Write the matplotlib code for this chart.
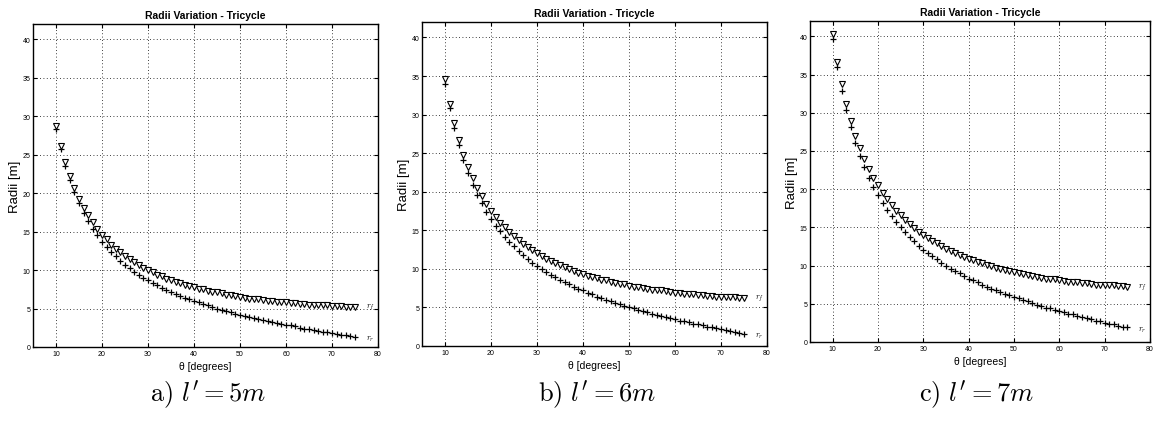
import matplotlib
matplotlib.use("Agg")
import matplotlib.pyplot as plt

plt.rcParams['font.family'] = ['Liberation Sans', 'DejaVu Sans']
plt.rcParams['mathtext.fontset'] = 'cm'

theta = list(range(10, 76))

rf_5 = [28.8, 26.2, 24.0, 22.2, 20.7, 19.3, 18.1, 17.1, 16.2, 15.4, 14.6, 14.0, 13.3, 12.8, 12.3, 11.8,
        11.4, 11.0, 10.7, 10.3, 10.0, 9.7, 9.4, 9.2, 8.9, 8.7, 8.5, 8.3, 8.1, 7.9, 7.8, 7.6, 7.5, 7.3,
        7.2, 7.1, 7.0, 6.8, 6.7, 6.6, 6.5, 6.4, 6.3, 6.3, 6.2, 6.1, 6.0, 6.0, 5.9, 5.8, 5.8, 5.7, 5.7,
        5.6, 5.6, 5.5, 5.5, 5.4, 5.4, 5.4, 5.3, 5.3, 5.3, 5.2, 5.2, 5.2]
rr_5 = [28.4, 25.7, 23.5, 21.7, 20.1, 18.7, 17.4, 16.4, 15.4, 14.5, 13.7, 13.0, 12.4, 11.8, 11.2, 10.7,
        10.3, 9.8, 9.4, 9.0, 8.7, 8.3, 8.0, 7.7, 7.4, 7.1, 6.9, 6.6, 6.4, 6.2, 6.0, 5.8, 5.6, 5.4, 5.2,
        5.0, 4.8, 4.7, 4.5, 4.3, 4.2, 4.0, 3.9, 3.8, 3.6, 3.5, 3.4, 3.2, 3.1, 3.0, 2.9, 2.8, 2.7, 2.5,
        2.4, 2.3, 2.2, 2.1, 2.0, 1.9, 1.8, 1.7, 1.6, 1.5, 1.4, 1.3]
rf_6 = [34.6, 31.4, 28.9, 26.7, 24.8, 23.2, 21.8, 20.5, 19.4, 18.4, 17.5, 16.7, 16.0, 15.4, 14.8, 14.2,
        13.7, 13.2, 12.8, 12.4, 12.0, 11.7, 11.3, 11.0, 10.7, 10.5, 10.2, 10.0, 9.7, 9.5, 9.3, 9.1, 9.0,
        8.8, 8.6, 8.5, 8.3, 8.2, 8.1, 8.0, 7.8, 7.7, 7.6, 7.5, 7.4, 7.3, 7.2, 7.2, 7.1, 7.0, 6.9, 6.9,
        6.8, 6.7, 6.7, 6.6, 6.6, 6.5, 6.5, 6.4, 6.4, 6.3, 6.3, 6.3, 6.2, 6.2]
rr_6 = [34.0, 30.9, 28.2, 26.0, 24.1, 22.4, 20.9, 19.6, 18.5, 17.4, 16.5, 15.6, 14.9, 14.1, 13.5, 12.9,
        12.3, 11.8, 11.3, 10.8, 10.4, 10.0, 9.6, 9.2, 8.9, 8.6, 8.3, 8.0, 7.7, 7.4, 7.2, 6.9, 6.7, 6.4,
        6.2, 6.0, 5.8, 5.6, 5.4, 5.2, 5.0, 4.9, 4.7, 4.5, 4.4, 4.2, 4.0, 3.9, 3.7, 3.6, 3.5, 3.3, 3.2,
        3.1, 2.9, 2.8, 2.7, 2.5, 2.4, 2.3, 2.2, 2.1, 1.9, 1.8, 1.7, 1.6]
rf_7 = [40.3, 36.7, 33.7, 31.1, 28.9, 27.0, 25.4, 23.9, 22.7, 21.5, 20.5, 19.5, 18.7, 17.9, 17.2, 16.6,
        16.0, 15.4, 14.9, 14.4, 14.0, 13.6, 13.2, 12.9, 12.5, 12.2, 11.9, 11.6, 11.4, 11.1, 10.9, 10.7,
        10.5, 10.3, 10.1, 9.9, 9.7, 9.6, 9.4, 9.3, 9.1, 9.0, 8.9, 8.8, 8.7, 8.5, 8.4, 8.3, 8.3, 8.2, 8.1,
        8.0, 7.9, 7.9, 7.8, 7.7, 7.7, 7.6, 7.5, 7.5, 7.4, 7.4, 7.4, 7.3, 7.3, 7.2]
rr_7 = [39.7, 36.0, 32.9, 30.3, 28.1, 26.1, 24.4, 22.9, 21.5, 20.3, 19.2, 18.2, 17.3, 16.5, 15.7, 15.0,
        14.4, 13.7, 13.2, 12.6, 12.1, 11.6, 11.2, 10.8, 10.4, 10.0, 9.6, 9.3, 9.0, 8.6, 8.3, 8.1, 7.8,
        7.5, 7.2, 7.0, 6.8, 6.5, 6.3, 6.1, 5.9, 5.7, 5.5, 5.3, 5.1, 4.9, 4.7, 4.5, 4.4, 4.2, 4.0, 3.9,
        3.7, 3.6, 3.4, 3.3, 3.1, 3.0, 2.8, 2.7, 2.5, 2.4, 2.3, 2.1, 2.0, 1.9]

captions = [r"$\mathrm{a)}\ l^{\prime} = 5m$", r"$\mathrm{b)}\ l^{\prime} = 6m$", r"$\mathrm{c)}\ l^{\prime} = 7m$"]
title = "Radii Variation - Tricycle"
xticks = [10, 20, 30, 40, 50, 60, 70, 80]
yticks = [0, 5, 10, 15, 20, 25, 30, 35, 40]

W, H = 1157, 427
fig = plt.figure(figsize=(W / 100, H / 100), dpi=100)

boxes_px = [(33, 25, 378, 348), (422, 23, 767, 347), (810, 22, 1150, 343)]
caption_x = [208, 597, 976]
series = [(rf_5, rr_5), (rf_6, rr_6), (rf_7, rr_7)]

for i, ((l, t, r, b), (rf, rr)) in enumerate(zip(boxes_px, series)):
    ax = fig.add_axes([l / W, 1 - b / H, (r - l) / W, (b - t) / H])
    ax.plot(theta, rr, linestyle='none', marker='+', color='black', markersize=5, markeredgewidth=0.9)
    ax.plot(theta, rf, linestyle='none', marker='v', markerfacecolor='white', markeredgecolor='black',
            markersize=5, markeredgewidth=0.8)
    ax.set_xlim(5, 80)
    ax.set_ylim(0, 42)
    ax.set_xticks(xticks)
    ax.set_yticks(yticks)
    ax.tick_params(direction='in', length=3, labelsize=5, top=True, right=True, pad=2)
    ax.grid(True, linestyle=(0, (1, 3)), color='black', linewidth=0.6)
    for s in ax.spines.values():
        s.set_linewidth(1.0)
    ax.set_title(title, fontsize=7.5, fontweight='bold', pad=4)
    ax.set_ylabel("Radii [m]", fontsize=9.5, labelpad=1)
    ax.set_xlabel("θ [degrees]", fontsize=7.5, labelpad=3)
    ax.text(77.3, rf[-1], r"$r_f$", fontsize=6, va='center', ha='left')
    ax.text(77.3, rr[-1] - 0.2, r"$r_r$", fontsize=6, va='center', ha='left')
    fig.text(caption_x[i] / W, 1 - 395 / H, captions[i], fontsize=19, ha='center', va='center')

fig.savefig("out.png", dpi=100, facecolor='white')
